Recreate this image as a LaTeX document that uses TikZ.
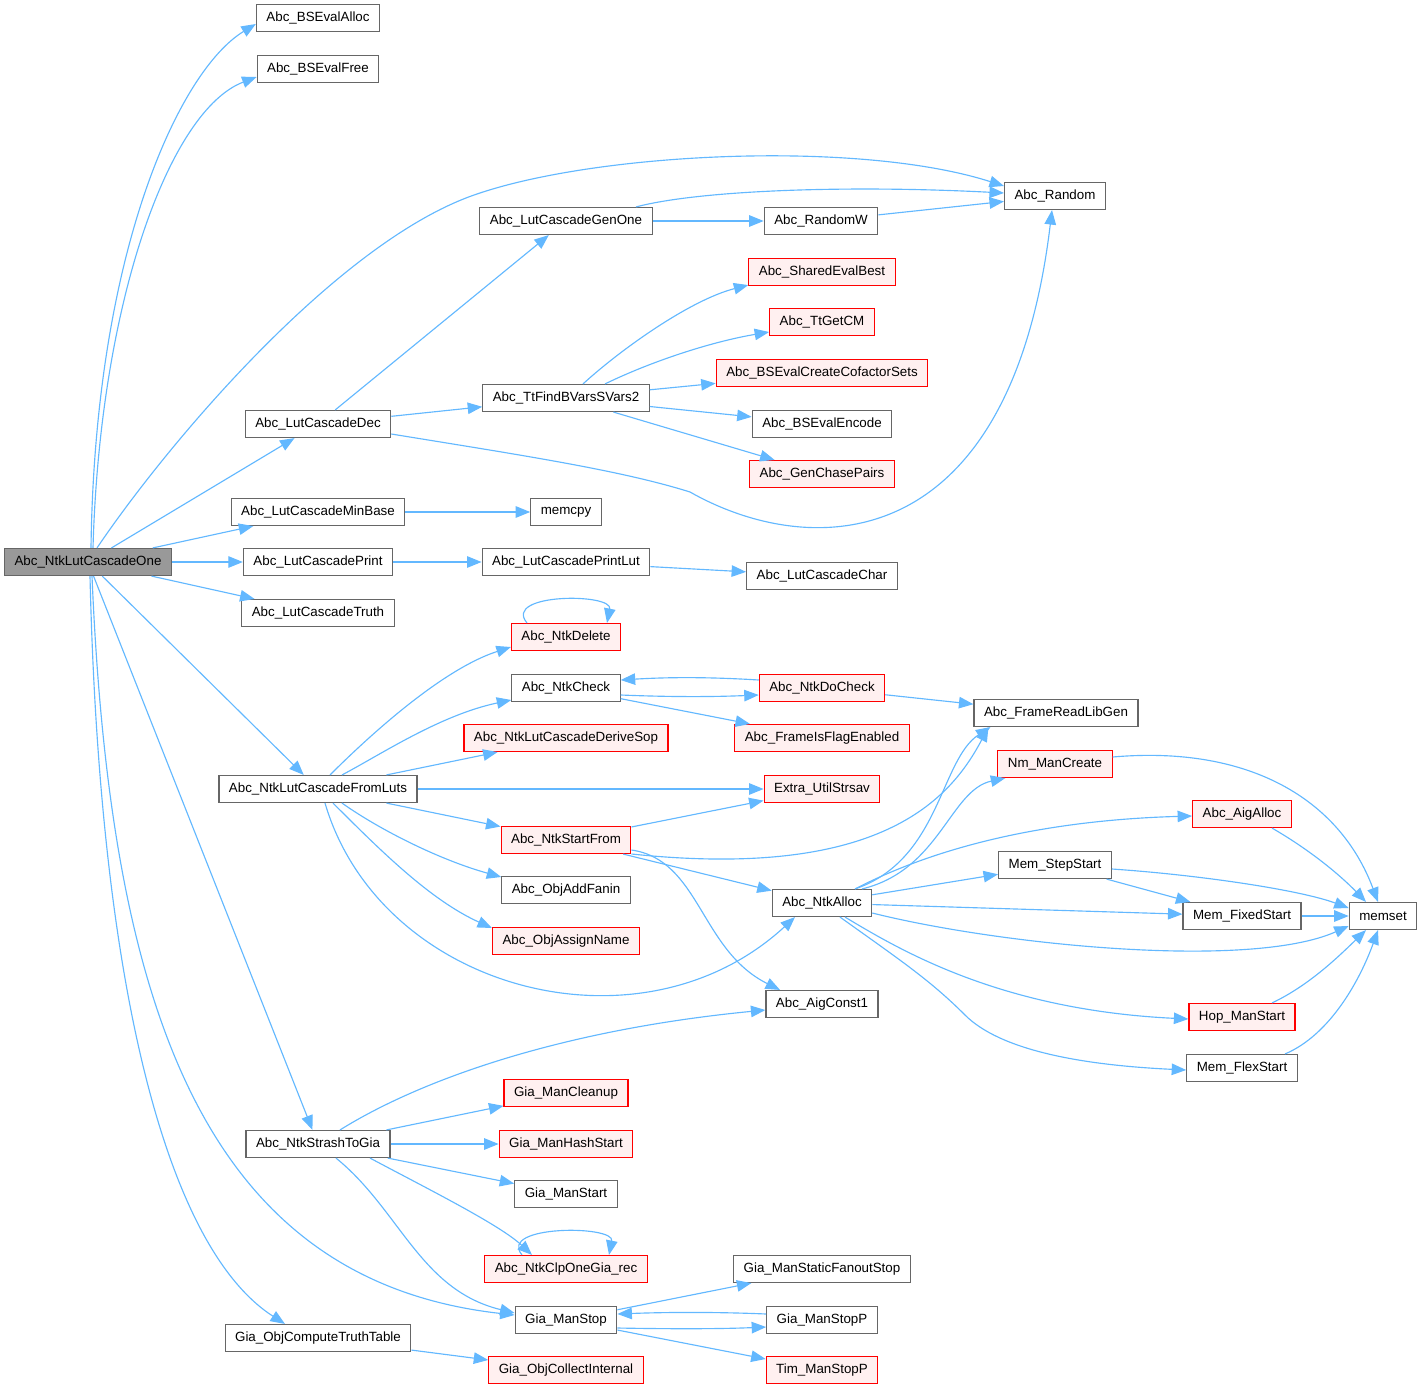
\documentclass[tikz,border=0pt]{standalone}
\usepackage{fontspec}
\setmainfont{Liberation Sans}
\usetikzlibrary{arrows.meta,calc}
\definecolor{CallBlue}{HTML}{63B8FF}
\definecolor{BoxGray}{HTML}{666666}
\definecolor{RootGray}{HTML}{999999}
\definecolor{LinkRed}{HTML}{FF0000}
\definecolor{RedFill}{HTML}{FFF0F0}
\tikzset{
  fnbox/.style={draw=BoxGray, fill=white, line width=0.65pt, minimum height=0.54cm,
                inner xsep=0.2cm, inner ysep=0pt, font=\fontsize{7.6}{9}\selectfont},
  fnred/.style={fnbox, draw=LinkRed, fill=RedFill},
  fnroot/.style={fnbox, fill=RootGray},
  call/.style={-{Triangle[length=2.9mm,width=2.3mm]}, line width=0.65pt, CallBlue},
}

\begin{document}
\begin{tikzpicture}[x=0.02cm, y=-0.02cm]
  \useasboundingbox (0,0) rectangle (1423,1389);

  % ---- Root ----
  \node[fnroot] (root) at (88,562) {Abc\_NtkLutCascadeOne};

  % ---- First level callees ----
  \node[fnbox] (bsalloc)   at (318,18)   {Abc\_BSEvalAlloc};
  \node[fnbox] (bsfree)    at (318,69)   {Abc\_BSEvalFree};
  \node[fnbox] (lcdec)     at (318,424)  {Abc\_LutCascadeDec};
  \node[fnbox] (lcminbase) at (318,512)  {Abc\_LutCascadeMinBase};
  \node[fnbox] (lcprint)   at (318,562)  {Abc\_LutCascadePrint};
  \node[fnbox] (lctruth)   at (318,613)  {Abc\_LutCascadeTruth};
  \node[fnbox] (fromluts)  at (318,789)  {Abc\_NtkLutCascadeFromLuts};
  \node[fnbox] (strash)    at (318,1144) {Abc\_NtkStrashToGia};
  \node[fnbox] (truthtab)  at (318,1338) {Gia\_ObjComputeTruthTable};

  % ---- Second column ----
  \node[fnbox] (genone)     at (566,221)  {Abc\_LutCascadeGenOne};
  \node[fnbox] (ttfind)     at (566,398)  {Abc\_TtFindBVarsSVars2};
  \node[fnbox] (memcpy)     at (566,512)  {memcpy};
  \node[fnbox] (printlut)   at (566,562)  {Abc\_LutCascadePrintLut};
  \node[fnred] (ntkdelete)  at (566,637)  {Abc\_NtkDelete};
  \node[fnbox] (ntkcheck)   at (566,688)  {Abc\_NtkCheck};
  \node[fnred] (derivesop)  at (566,738)  {Abc\_NtkLutCascadeDeriveSop};
  \node[fnred] (startfrom)  at (566,840)  {Abc\_NtkStartFrom};
  \node[fnbox] (addfanin)   at (566,890)  {Abc\_ObjAddFanin};
  \node[fnred] (assignname) at (566,941)  {Abc\_ObjAssignName};
  \node[fnred] (giacleanup) at (566,1093) {Gia\_ManCleanup};
  \node[fnred] (hashstart)  at (566,1144) {Gia\_ManHashStart};
  \node[fnbox] (giastart)   at (566,1194) {Gia\_ManStart};
  \node[fnred] (clpone)     at (566,1269) {Abc\_NtkClpOneGia\_rec};
  \node[fnbox] (giastop)    at (566,1320) {Gia\_ManStop};
  \node[fnred] (collectint) at (566,1370) {Gia\_ObjCollectInternal};

  % ---- Third column ----
  \node[fnbox] (randomw)     at (821,221)  {Abc\_RandomW};
  \node[fnred] (sharedbest)  at (822,272)  {Abc\_SharedEvalBest};
  \node[fnred] (ttgetcm)     at (822,322)  {Abc\_TtGetCM};
  \node[fnred] (cofactor)    at (822,373)  {Abc\_BSEvalCreateCofactorSets};
  \node[fnbox] (bsencode)    at (822,424)  {Abc\_BSEvalEncode};
  \node[fnred] (chasepairs)  at (822,474)  {Abc\_GenChasePairs};
  \node[fnbox] (lcchar)      at (822,576)  {Abc\_LutCascadeChar};
  \node[fnred] (docheck)     at (822,688)  {Abc\_NtkDoCheck};
  \node[fnred] (flagenabled) at (822,738)  {Abc\_FrameIsFlagEnabled};
  \node[fnred] (strsav)      at (822,789)  {Extra\_UtilStrsav};
  \node[fnbox] (ntkalloc)    at (822,903)  {Abc\_NtkAlloc};
  \node[fnbox] (aigconst)    at (822,1004) {Abc\_AigConst1};
  \node[fnbox] (fanoutstop)  at (822,1269) {Gia\_ManStaticFanoutStop};
  \node[fnbox] (giastopp)    at (822,1320) {Gia\_ManStopP};
  \node[fnred] (timstopp)    at (822,1370) {Tim\_ManStopP};

  % ---- Right columns ----
  \node[fnbox] (random)     at (1055,196)  {Abc\_Random};
  \node[fnbox] (libgen)     at (1056,713)  {Abc\_FrameReadLibGen};
  \node[fnred] (nmcreate)   at (1055,764)  {Nm\_ManCreate};
  \node[fnbox] (stepstart)  at (1055,865)  {Mem\_StepStart};
  \node[fnred] (aigalloc)   at (1242,814)  {Abc\_AigAlloc};
  \node[fnbox] (fixedstart) at (1242,916)  {Mem\_FixedStart};
  \node[fnred] (hopstart)   at (1242,1017) {Hop\_ManStart};
  \node[fnbox] (flexstart)  at (1242,1068) {Mem\_FlexStart};
  \node[fnbox] (memset)     at (1383,916)  {memset};

  % ---- Calls from the root ----
  \draw[call] ($(root.north)+(3,0)$) .. controls (95,250) and (180,70) .. ($(bsalloc.west)+(0,6)$);
  \draw[call] ($(root.north)+(5,0)$) .. controls (100,300) and (170,110) .. ($(bsfree.west)+(0,8)$);
  \draw[call] ($(root.north)+(9,0)$) .. controls (170,440) and (340,240) .. (477,194)
              .. controls (600,152) and (860,140) .. ($(random.west)+(0,-10)$);
  \draw[call] (root) -- (lcdec);
  \draw[call] (root) -- (lcminbase);
  \draw[call] (root) -- (lcprint);
  \draw[call] (root) -- (lctruth);
  \draw[call] (root) -- (fromluts);
  \draw[call] (root) -- (strash);
  \draw[call] ($(root.south)+(4,0)$) .. controls (110,1000) and (200,1280) .. ($(giastop.west)+(0,-5)$);
  \draw[call] ($(root.south)+(2,0)$) .. controls (100,1000) and (170,1250) .. ($(truthtab.north)+(-33,0)$);

  % ---- Cascade decomposition ----
  \draw[call] (lcdec) -- (genone);
  \draw[call] (lcdec) -- (ttfind);
  \draw[call] ($(lcdec.east)+(0,10)$) .. controls (520,455) and (620,470) .. (690,492)
              .. controls (810,560) and (1010,560) .. ($(random.south)+(-3,0)$);
  \draw[call] ($(genone.north)+(70,0)$) .. controls (700,190) and (850,185) .. ($(random.west)+(0,-3)$);
  \draw[call] (genone) -- (randomw);
  \draw[call] (randomw) -- (random);
  \draw[call] ($(ttfind.north)+(17,0)$) .. controls (620,350) and (690,300) .. ($(sharedbest.south west)+(0,-1)$);
  \draw[call] ($(ttfind.north)+(39,0)$) .. controls (650,362) and (710,342) .. ($(ttgetcm.west)+(0,10)$);
  \draw[call] (ttfind) -- (cofactor);
  \draw[call] (ttfind) -- (bsencode);
  \draw[call] (ttfind) -- (chasepairs);
  \draw[call] (lcminbase) -- (memcpy);
  \draw[call] (lcprint) -- (printlut);
  \draw[call] (printlut) -- (lcchar);

  % ---- Network from LUTs ----
  \draw[call] ($(fromluts.north)+(12,0)$) .. controls (365,740) and (440,670) .. ($(ntkdelete.west)+(0,10)$);
  \draw[call] ($(fromluts.north)+(24,0)$) .. controls (380,755) and (440,715) .. ($(ntkcheck.west)+(0,12)$);
  \draw[call] (fromluts) -- (derivesop);
  \draw[call] (fromluts) -- (strsav);
  \draw[call] (fromluts) -- (startfrom);
  \draw[call] ($(fromluts.south)+(24,0)$) .. controls (380,830) and (440,860) .. ($(addfanin.west)+(0,-13)$);
  \draw[call] ($(fromluts.south)+(15,0)$) .. controls (380,850) and (430,900) .. ($(assignname.west)+(0,-13)$);
  \draw[call] ($(fromluts.south)+(7,0)$) .. controls (380,990) and (640,1060) .. ($(ntkalloc.south)+(-27,0)$);
  \draw[call] ($(ntkdelete.north)+(-39,0)$) .. controls +(-25,-30) and +(6,-30) .. ($(ntkdelete.north)+(41,0)$);
  \draw[call] ($(ntkcheck.east)+(0,7)$) .. controls (670,697) and (710,697) .. ($(docheck.west)+(0,7)$);
  \draw[call] ($(docheck.west)+(0,-8)$) .. controls (710,677) and (670,677) .. ($(ntkcheck.east)+(0,-8)$);
  \draw[call] (ntkcheck) -- (flagenabled);
  \draw[call] (docheck) -- (libgen);
  \draw[call] (startfrom) -- (strsav);
  \draw[call] ($(startfrom.east)+(0,14)$) .. controls (880,880) and (950,800) .. ($(libgen.south west)+(15,0)$);
  \draw[call] (startfrom) -- (ntkalloc);
  \draw[call] ($(startfrom.east)+(0,10)$) .. controls (700,860) and (700,950) .. ($(aigconst.north)+(-42,0)$);

  % ---- Network allocation ----
  \draw[call] ($(ntkalloc.north)+(33,0)$) .. controls (940,860) and (940,760) .. ($(libgen.south west)+(17,0)$);
  \draw[call] ($(ntkalloc.north)+(40,0)$) .. controls (940,870) and (950,790) .. ($(nmcreate.south west)+(8,0)$);
  \draw[call] ($(ntkalloc.north)+(33,0)$) .. controls (940,845) and (1050,820) .. ($(aigalloc.west)+(0,2)$);
  \draw[call] (ntkalloc) -- (stepstart);
  \draw[call] (ntkalloc) -- (fixedstart);
  \draw[call] ($(ntkalloc.east)+(0,10)$) .. controls (1000,945) and (1250,970) .. ($(memset.west)+(0,10)$);
  \draw[call] ($(ntkalloc.south)+(23,0)$) .. controls (900,950) and (1000,1010) .. ($(hopstart.west)+(0,2)$);
  \draw[call] ($(ntkalloc.south)+(18,0)$) .. controls (900,960) and (930,980) .. (965,1015)
              .. controls (1000,1050) and (1080,1065) .. ($(flexstart.west)+(0,2)$);
  \draw[call] ($(nmcreate.east)+(0,-7)$) .. controls (1250,745) and (1340,800) .. ($(memset.north)+(-5,0)$);
  \draw[call] ($(aigalloc.south)+(30,0)$) .. controls (1310,850) and (1340,875) .. ($(memset.north)+(-17,0)$);
  \draw[call] ($(stepstart.east)+(0,4)$) .. controls (1200,875) and (1300,890) .. ($(memset.west)+(0,-8)$);
  \draw[call] (stepstart) -- (fixedstart);
  \draw[call] (fixedstart) -- (memset);
  \draw[call] ($(hopstart.north)+(30,0)$) .. controls (1310,985) and (1340,955) .. ($(memset.south)+(-17,0)$);
  \draw[call] ($(flexstart.north)+(43,0)$) .. controls (1330,1035) and (1360,980) .. ($(memset.south)+(-5,0)$);

  % ---- Strash to GIA ----
  \draw[call] ($(strash.north)+(22,0)$) .. controls (420,1080) and (560,1030) .. ($(aigconst.west)+(0,6)$);
  \draw[call] (strash) -- (giacleanup);
  \draw[call] (strash) -- (hashstart);
  \draw[call] (strash) -- (giastart);
  \draw[call] ($(strash.south)+(52,0)$) .. controls (430,1190) and (500,1225) .. ($(clpone.north)+(-34,0)$);
  \draw[call] ($(strash.south)+(18,0)$) .. controls (400,1210) and (420,1290) .. ($(giastop.west)+(0,-7)$);
  \draw[call] ($(clpone.north)+(-44,0)$) .. controls +(-25,-30) and +(6,-30) .. ($(clpone.north)+(43,0)$);
  \draw[call] (giastop) -- (fanoutstop);
  \draw[call] ($(giastopp.west)+(0,-6)$) .. controls (720,1312) and (670,1312) .. ($(giastop.east)+(0,-6)$);
  \draw[call] ($(giastop.east)+(0,8)$) .. controls (670,1329) and (720,1329) .. ($(giastopp.west)+(0,7)$);
  \draw[call] (giastop) -- (timstopp);
  \draw[call] (truthtab) -- (collectint);

\end{tikzpicture}
\end{document}
